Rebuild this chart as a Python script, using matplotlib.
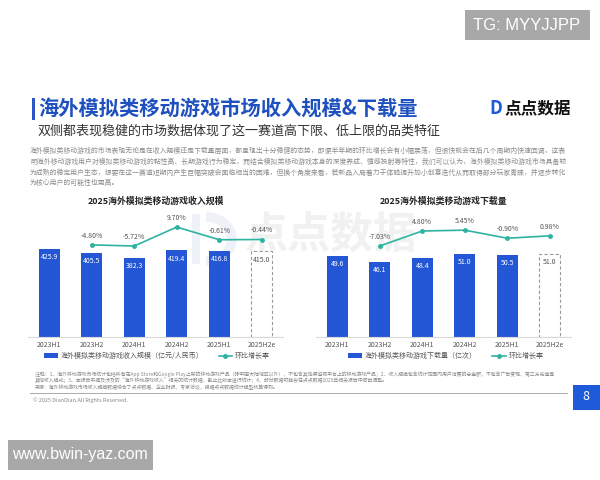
import matplotlib.pyplot as plt
from matplotlib.lines import Line2D
from matplotlib.patches import Patch, Rectangle, Arc

plt.rcParams['font.family'] = ['Noto Sans CJK SC', 'DejaVu Sans']

# data
periods = ['2023H1', '2023H2', '2024H1', '2024H2', '2025H1', '2025H2e']
revenue = [425.9, 405.5, 382.3, 419.4, 416.8, 415.0]
revenue_growth = [None, -4.80, -5.72, 9.70, -0.61, -0.44]
downloads = [49.6, 46.1, 48.4, 51.0, 50.5, 51.0]
download_growth = [None, -7.03, 4.80, 5.45, -0.90, 0.98]

title = '海外模拟类移动游戏市场收入规模&下载量'
subtitle = '双侧都表现稳健的市场数据体现了这一赛道高下限、低上限的品类特征'
paragraph = [
    '海外模拟类移动游戏的市场表现无论是在收入规模还是下载量层面，都呈现出十分稳健的态势，即便半年期的环比增长会有小幅震荡，但很快就会在后几个周期内快速回调，这表',
    '明海外移动游戏用户对模拟类移动游戏的黏性高、长期游戏行为稳定，而结合模拟类移动游戏本身的深度养成、情感投射等特性，我们可以认为，海外模拟类移动游戏市场具备较',
    '为成熟的稳定用户生态，想要在这一赛道短期内产生巨幅突破会面临相当的困难，但换个角度来看，若新品入局着力于体验提升加小创意迭代从而取得部分玩家青睐，并逐步转化',
    '为核心用户的可能性也更高。',
]
notes = [
    '注释：1、海外移动游戏市场统计包括所有在App Store和Google Play上架的移动游戏产品（除中国大陆地区以外），不包含其他渠道或平台上的移动游戏产品；2、收入规模包含统计范围内用户消费的总金额，不包含广告变现、第三方充值等',
    '其他收入模式；3、本报告中提及涉及的“海外移动游戏收入”相关的统计数据，截止此版本进行统计；4、部分数据可能会在点点数据2025年相关报告中做出调整。',
    '来源：海外移动游戏市场收入规模数据综合了点点数据、企业财报、专家访谈，根据点点数据统计模型核算得到。',
]

BLUE = '#2457d6'
TEAL = '#2db3a0'
W, H = 600, 480

fig = plt.figure(figsize=(6, 4.8), dpi=100)


def fx(x):
    return x / W


def fy(y):
    return 1 - y / H


def box(x0, y0, x1, y1, color, z=1):
    fig.add_artist(Rectangle((fx(x0), fy(y1)), (x1 - x0) / W, (y1 - y0) / H,
                             transform=fig.transFigure, facecolor=color,
                             edgecolor='none', zorder=z))


# header
box(32, 98, 35, 120, '#2a56c6')
fig.text(fx(38), fy(108), title, fontsize=14.6, fontweight='bold', color='#1e50c0',
         va='center', ha='left')
fig.text(fx(38), fy(131), subtitle, fontsize=9.4, color='#333333', va='center', ha='left')
fig.text(fx(496), fy(108), 'D', fontsize=13, fontweight='bold', color='#1e5bd8',
         va='center', ha='center')
fig.text(fx(538), fy(108), '点点数据', fontsize=12, fontweight='bold', color='#111111',
         va='center', ha='center')
for i, line in enumerate(paragraph):
    fig.text(fx(30), fy(151 + i * 10.7), line, fontsize=4.95, color='#8c8c8c',
             va='center', ha='left')

# faint logo watermark behind charts (drawn as shapes)
box(192, 214, 200, 264, '#eef1f8', z=-1)
fig.add_artist(Arc((fx(206), fy(239)), 52 / W, 44 / H, theta1=-90, theta2=90,
                   transform=fig.transFigure, color='#eef1f8', lw=7, zorder=-1))
fig.text(fx(331), fy(236), '点点数据', fontsize=31, fontweight='bold', color='#f1f1f1',
         va='center', ha='center', zorder=-1)


def draw_chart(left, right, values, growth, bar_top, line_lim, chart_title, label, leg_x):
    ax = fig.add_axes([fx(left), fy(337), (right - left) / W, 122 / H])
    ax.set_facecolor('none')
    x = list(range(len(periods)))
    ax.bar(x[:-1], values[:-1], width=0.5, color=BLUE, zorder=2)
    ax.bar(x[-1], values[-1], width=0.5, facecolor='white', edgecolor='#9a9a9a',
           linestyle=(0, (3, 2)), linewidth=0.8, zorder=2)
    for xi, v in zip(x, values):
        ax.annotate(f'{v:.1f}', (xi, v), xytext=(0, -6), textcoords='offset points',
                    ha='center', va='center', fontsize=5,
                    color='white' if xi < len(x) - 1 else '#555555', zorder=3)
    ax.set_xlim(-0.5, len(x) - 0.5)
    ax.set_ylim(0, bar_top)
    ax.set_xticks(x, periods, fontsize=5, color='#555555')
    ax.tick_params(length=0, pad=3)
    ax.set_yticks([])
    for s in ['top', 'left', 'right']:
        ax.spines[s].set_visible(False)
    ax.spines['bottom'].set_color('#d9d9d9')
    ax.spines['bottom'].set_linewidth(0.8)
    ax.set_title(chart_title, fontsize=6.4, fontweight='bold', color='#222222', pad=8)

    ax2 = ax.twinx()
    gx = [xi for xi, g in zip(x, growth) if g is not None]
    gy = [g for g in growth if g is not None]
    ax2.plot(gx, gy, color=TEAL, lw=1.2, marker='o', ms=2.5, zorder=4)
    for xi, g in zip(gx, gy):
        ax2.annotate(f'{g:.2f}%', (xi, g), xytext=(0, 6.5), textcoords='offset points',
                     ha='center', va='center', fontsize=5, color='#555555')
    ax2.set_ylim(*line_lim)
    ax2.axis('off')

    handles = [Patch(facecolor=BLUE, label=label),
               Line2D([0], [0], color=TEAL, lw=1.2, marker='o', ms=2.5, label='环比增长率')]
    leg = fig.legend(handles=handles, loc='center', bbox_to_anchor=(fx(leg_x), fy(356)),
                     ncol=2, frameon=False, fontsize=5, handlelength=2.0,
                     handleheight=0.7, columnspacing=2.2, handletextpad=0.4)
    for t in leg.get_texts():
        t.set_color('#555555')


draw_chart(28, 283, revenue, revenue_growth, 590, (-79.7, 19.5),
           '2025海外模拟类移动游戏收入规模', '海外模拟类移动游戏收入规模（亿元/人民币）', 157)
draw_chart(316, 571, downloads, download_growth, 74.7, (-78.7, 17.4),
           '2025海外模拟类移动游戏下载量', '海外模拟类移动游戏下载量（亿次）', 446)

# footer
for i, line in enumerate(notes):
    fig.text(fx(35), fy(374 + i * 6.5), line, fontsize=3.55, color='#888888',
             va='center', ha='left')
fig.add_artist(Line2D([fx(30), fx(567)], [fy(393), fy(393)], transform=fig.transFigure,
                      color='#aaaaaa', lw=0.7))
fig.text(fx(33), fy(400), '© 2025 DianDian.All Rights Reserved.', fontsize=4,
         color='#888888', va='center', ha='left')
box(573, 385, 600, 410, '#1e5bd8')
fig.text(fx(586), fy(397), '8', fontsize=9, color='white', style='italic',
         va='center', ha='center')

# overlay stamps
box(465, 10, 590, 40, '#a8a8a8', z=5)
fig.text(fx(527), fy(25), 'TG: MYYJJPP', fontsize=12, color='white',
         family='Liberation Sans', va='center', ha='center', zorder=6)
box(8, 440, 153, 470, '#a8a8a8', z=5)
fig.text(fx(80), fy(455), 'www.bwin-yaz.com', fontsize=11.5, color='white',
         family='Liberation Sans', va='center', ha='center', zorder=6)

fig.savefig('out.png', dpi=100, facecolor='white')
